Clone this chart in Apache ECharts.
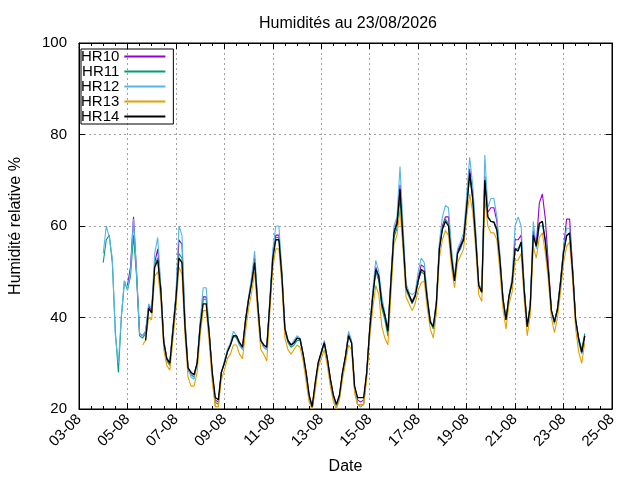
<!DOCTYPE html>
<html>
<head>
<meta charset="utf-8">
<title>Humidités</title>
<script src="https://cdn.jsdelivr.net/npm/echarts@6/dist/echarts.min.js"></script>
<style>
  html, body { margin: 0; padding: 0; background: #fff; }
  #main { width: 640px; height: 480px; }
</style>
</head>
<body>
<div id="main"></div>
<script>
// relevés toutes les 3 heures, du 04-08 00h au 23-08 21h (8 valeurs par jour)
var START = Date.UTC(2026, 7, 4, 0, 0);
var STEP = 3 * 3600 * 1000;
var n = null;

var hr10 = [
  n, n, n, n, n, n, n, n,
  47, 51, 62, 50, 36.5, 36, 37, 42.5,
  41.5, 52, 55, 46.5, 35, 31, 30, 37.5,
  44.5, 57, 56, 39, 29, 28, 27.5, 30,
  38.5, 44.5, 44.5, 36.5, 28, 22, 21.5, 28,
  30, 32.5, 34, 36, 36, 34.5, 33.5, 39.5,
  44, 48, 53, 43, 35, 34, 33.5, 43,
  53.5, 58, 58, 49.5, 37.5, 35, 34, 34.5,
  35.5, 35.3, 32, 28, 23, 20.5, 25.5, 30,
  32.4, 34.5, 31, 26.6, 23, 21, 23, 28,
  31.6, 36.5, 34.5, 25, 22, 21.5, 22, 28,
  37.5, 45, 51, 49, 43, 40.5, 37, 48,
  59, 61, 69, 58, 46.5, 45, 43.5, 45,
  48.5, 51.5, 51, 44.5, 39, 38, 43, 55.5,
  60, 62, 62, 54, 48, 54.5, 56, 57.5,
  65, 72.5, 67, 58, 47, 45.5, 71, 63,
  64, 64, 61, 53, 44, 39.5, 44.7, 48,
  57, 57, 58, 46.5, 38, 42.5, 59, 56,
  65, 67, 61.5, 51.5, 41.5, 39, 42, 48,
  55, 61.5, 61.5, 51, 39.5, 35.3, 32.4, 36
];

var hr11 = [
  52, 57, 58, 52, 37, 28, 40, 48,
  46, 49, 58, 49, 36, 35.5, 36.5, 42,
  41, 51.5, 53, 46.5, 34.5, 30.5, 29.5, 37,
  44, 54, 53, 38.5, 28.5, 27.5, 27, 30,
  38, 44, 44, 36.5, 27.5, 21.5, 21, 28,
  30, 32.5, 34, 36, 35.5, 34, 33, 39,
  44, 47.5, 52.5, 43, 35, 33.5, 33, 43,
  53.5, 57.5, 57.5, 49, 37, 34.5, 33.5, 34,
  35, 35, 32, 27.5, 22.5, 20, 25, 30,
  32, 34.5, 31, 26, 22.5, 20.5, 22.5, 27.5,
  31, 36, 34.5, 24.5, 21, 20.5, 21, 27.5,
  37.5, 44.5, 50, 48, 42, 39.5, 36, 47,
  57.5, 59.5, 66, 56, 46, 44.5, 43, 44.5,
  48, 50, 49.5, 44, 39, 37.5, 43, 55,
  59.5, 61.5, 60.5, 53, 48, 54, 55, 57,
  64, 71, 66, 57, 47, 45.5, 70, 62,
  61, 61, 59.5, 52.5, 44, 39.5, 44.5, 47.5,
  55, 55, 56.5, 46, 38, 42.5, 58, 55.5,
  60.5, 61, 57, 50, 41.5, 39, 42, 47.5,
  54, 58, 58.5, 50, 39.5, 35.5, 33, 36.5
];

var hr12 = [
  54, 60, 57.5, 53, 36, 30, 40.5, 48,
  46, 50, 61.5, 50, 36.5, 36, 37, 43,
  42, 54, 57.5, 47, 35, 31, 30.5, 38,
  45, 60, 58, 40, 29, 27, 26.5, 30,
  39, 46.5, 46.5, 37, 27.5, 20.5, 20.5, 28,
  30.5, 33, 34.5, 37, 36, 34, 33, 39.5,
  44.5, 49, 54.5, 44, 35, 33.5, 33, 44,
  55, 60, 60, 50.5, 38, 35, 34, 35,
  36, 35.5, 32, 27.5, 22, 20, 25, 30,
  32.5, 35, 31, 26, 22.5, 20.5, 22.5, 27.5,
  31.5, 37, 35, 24.5, 21, 20.5, 21, 27.5,
  38, 46, 52.5, 50, 44.5, 41, 37.5, 49,
  60, 62, 73, 60, 47.5, 45.5, 45, 45.5,
  50, 53, 52, 45, 39.5, 38, 44, 56.5,
  62, 64.5, 64, 55, 49, 55, 56.5, 58.5,
  66.5, 75, 69, 59, 47.5, 46, 75.5, 64,
  66, 66, 62, 54, 44.5, 39.5, 45, 48.5,
  60, 62, 60, 47, 38.5, 43, 61, 55,
  60, 60, 57, 50.5, 41, 38.5, 42, 48,
  55, 59.5, 59.5, 50.5, 39, 34.5, 32, 36
];

var hr13 = [
  n, n, n, n, n, n, n, n,
  n, n, n, n, n, 34, 35, 40,
  39.5, 49, 50, 44, 33, 29.5, 28.5, 35,
  42, 51, 49.5, 36, 27, 25, 25, 28,
  36, 41.5, 41.5, 34.5, 26, 20.5, 20.5, 26.5,
  28.5, 31, 32, 34, 34, 32, 31, 37,
  42, 45.5, 50, 41, 33, 32, 30.5, 41,
  51, 55, 55, 47, 35.5, 33, 32, 33,
  34, 33.5, 30.5, 26, 21.5, 20, 24, 29,
  31, 33, 29.5, 25, 21.5, 20, 22, 26.5,
  30, 34, 33, 23.5, 21, 21, 21, 26.5,
  35.5, 42, 47, 45, 38, 35.5, 34, 45,
  56, 58, 63.6, 55, 44.5, 43, 41.5, 43,
  46, 47.6, 48, 42, 37.5, 35.5, 41, 53,
  57, 59, 58, 51, 46.5, 52, 53.5, 55,
  62, 67, 63, 55, 45, 43.5, 66, 60,
  58.5, 58.5, 57, 50, 42, 37.5, 43, 45.5,
  52.5, 52.5, 54, 44, 36, 40.5, 55.5, 53,
  57.5, 58.5, 54, 48, 40, 36.7, 40, 45.5,
  52, 55.5, 56.5, 48, 37.5, 32.5, 30, 34.5
];

var hr14 = [
  n, n, n, n, n, n, n, n,
  n, n, n, n, n, n, 35, 42,
  41, 51, 52.5, 46, 34.5, 31, 30, 37,
  44, 53, 52, 38, 29, 28, 27.5, 30,
  38, 43, 43, 36.5, 28, 22.5, 22, 28,
  30, 32.5, 34, 36, 36, 34.5, 33.5, 39.5,
  44, 47.5, 52, 43, 35, 34, 33.5, 43,
  53, 57, 57, 49, 37.5, 35, 34, 34.5,
  35.5, 35.3, 32, 28, 23, 20.5, 25.8, 30.2,
  32.4, 34.5, 31, 26.6, 23, 21, 23, 28,
  31.6, 36, 34.5, 25, 22.5, 22.5, 22.5, 28,
  37.5, 44.7, 50.5, 49, 43, 40.5, 37, 48,
  58.5, 60.5, 68, 57, 46.5, 45, 43.3, 44.7,
  48, 50.5, 50, 44, 39, 38, 43, 55,
  59.3, 61, 60, 53, 48, 54, 55.6, 57,
  64, 71.5, 66, 57, 47, 45.5, 70, 62,
  61, 60.8, 59, 52.5, 44, 39.5, 44.7, 47.6,
  55, 54.5, 56.5, 46, 38, 42.5, 58, 55.6,
  60.6, 61, 56.5, 50, 41.5, 39, 41.8, 47.6,
  54.2, 57.8, 58.5, 50, 39.5, 35.3, 32.4, 36
];

var names = ['HR10', 'HR11', 'HR12', 'HR13', 'HR14'];
var colors = ['#9400d3', '#009e73', '#56b4e9', '#e69f00', '#000000'];
var values = [hr10, hr11, hr12, hr13, hr14];

var times = [];
for (var i = 0; i < hr14.length; i++) {
  times.push(START + i * STEP);
}

var DAY = 24 * 3600 * 1000;
var FONT = 'Liberation Sans';

function pad(x) {
  return x < 10 ? '0' + x : '' + x;
}

function dateLabel(v) {
  var d = new Date(v);
  return pad(d.getUTCDate()) + '-' + pad(d.getUTCMonth() + 1);
}

var chart = echarts.init(document.getElementById('main'));

var dashed = { color: '#a0a0a0', width: 1, type: [2, 3] };

var xCommon = {
  type: 'value',
  min: Date.UTC(2026, 7, 3),
  max: Date.UTC(2026, 7, 25),
  interval: 2 * DAY,
  axisLine: { show: true, onZero: false, lineStyle: { color: '#000', width: 1 } },
  axisTick: { show: true, inside: true, length: 6, lineStyle: { color: '#000' } },
  minorTick: { show: true, splitNumber: 4, length: 3, lineStyle: { color: '#000' } }
};

var yCommon = {
  type: 'value',
  min: 20,
  max: 100,
  interval: 20,
  axisLine: { show: true, lineStyle: { color: '#000', width: 1 } },
  axisTick: { show: true, inside: true, length: 6, lineStyle: { color: '#000' } }
};

var series = values.map(function (vals, k) {
  return {
    name: names[k],
    type: 'line',
    xAxisIndex: 0,
    yAxisIndex: 0,
    showSymbol: false,
    connectNulls: false,
    color: colors[k],
    lineStyle: { width: k === 4 ? 1.3 : 1.1, color: colors[k] },
    data: vals.map(function (v, i) { return [times[i], v]; })
  };
});

var option = {
  animation: false,
  backgroundColor: '#fff',
  textStyle: { fontFamily: FONT },
  title: {
    text: 'Humidités au 23/08/2026',
    left: 343,
    top: 11,
    textAlign: 'center',
    textStyle: { fontFamily: FONT, fontSize: 16, fontWeight: 'normal', color: '#000' }
  },
  legend: {
    data: names,
    orient: 'vertical',
    left: 81,
    top: 49,
    align: 'right',
    itemWidth: 41,
    itemHeight: 2,
    itemGap: 0,
    icon: 'rect',
    padding: [0, 8, 0, 0],
    borderColor: '#000',
    borderWidth: 1,
    textStyle: { fontFamily: FONT, fontSize: 15, lineHeight: 15, color: '#000' }
  },
  grid: {
    left: 74,
    right: 28,
    top: 43,
    bottom: 70,
    show: true,
    borderColor: '#000',
    borderWidth: 1,
    containLabel: false
  },
  xAxis: [
    Object.assign({}, xCommon, {
      position: 'bottom',
      name: 'Date',
      nameLocation: 'middle',
      nameGap: 50,
      nameTextStyle: { fontFamily: FONT, fontSize: 16, color: '#000' },
      axisLabel: {
        rotate: 45,
        margin: 8,
        fontFamily: FONT,
        fontSize: 15,
        color: '#000',
        showMinLabel: true,
        showMaxLabel: true,
        formatter: dateLabel
      },
      splitLine: { show: true, lineStyle: dashed }
    }),
    Object.assign({}, xCommon, {
      position: 'top',
      axisLabel: { show: false },
      splitLine: { show: false }
    })
  ],
  yAxis: [
    Object.assign({}, yCommon, {
      position: 'left',
      name: 'Humidité relative %',
      nameLocation: 'middle',
      nameGap: 55,
      nameTextStyle: { fontFamily: FONT, fontSize: 16, color: '#000' },
      axisLabel: { margin: 12, fontFamily: FONT, fontSize: 15, color: '#000' },
      splitLine: { show: true, lineStyle: dashed }
    }),
    Object.assign({}, yCommon, {
      position: 'right',
      axisLabel: { show: false },
      splitLine: { show: false }
    })
  ],
  series: series
};

chart.setOption(option);
</script>
</body>
</html>
